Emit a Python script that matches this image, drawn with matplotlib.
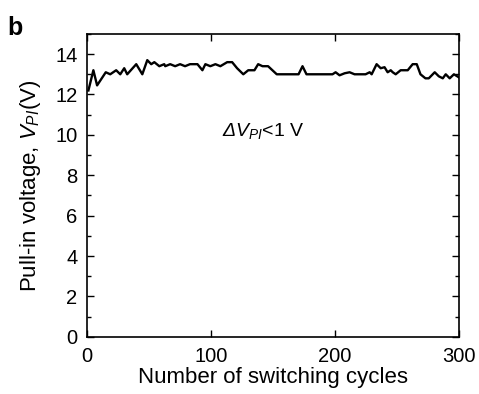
import matplotlib
matplotlib.use("Agg")
import matplotlib.pyplot as plt
from matplotlib.ticker import MultipleLocator

plt.rcParams['font.family'] = ['Liberation Sans', 'DejaVu Sans']
plt.rcParams['mathtext.fontset'] = 'custom'
plt.rcParams['mathtext.rm'] = 'Liberation Sans'
plt.rcParams['mathtext.it'] = 'Liberation Sans:italic'
plt.rcParams['mathtext.sf'] = 'Liberation Sans:italic'  # for an italic capital Delta

# switching cycle number and pull-in voltage (V)
cycles = [1, 5, 8, 15, 18.6, 23.4, 26.7, 29.9, 32.3, 39.6, 44.5, 48.5, 51.7, 54.2,
          58.2, 62.2, 63, 67, 71, 75, 79, 83, 89, 93, 95.4, 99.4, 103.5, 107.5,
          113, 117, 121, 126, 130, 135, 138, 141.5, 146, 153, 170.6, 173.8, 177,
          198, 200.5, 203.7, 207.8, 211.8, 215.8, 224.7, 228, 229.6, 233.6, 236.9,
          240, 242.5, 245, 246.6, 249, 253, 258.7, 262.7, 266, 269, 273, 275.7,
          280.5, 283.8, 287, 289.4, 292.6, 296, 300]
vpi = [12.2, 13.2, 12.45, 13.1, 13.0, 13.2, 13.0, 13.3, 13.0, 13.5, 13.0, 13.7, 13.5, 13.6,
       13.4, 13.5, 13.4, 13.5, 13.4, 13.5, 13.4, 13.5, 13.5, 13.2, 13.5, 13.4, 13.5, 13.4,
       13.6, 13.6, 13.3, 13.0, 13.2, 13.2, 13.5, 13.4, 13.4, 13.0, 13.0, 13.4, 13.0,
       13.0, 13.1, 12.95, 13.05, 13.1, 13.0, 13.0, 13.1, 13.0, 13.5, 13.3,
       13.35, 13.1, 13.2, 13.1, 13.0, 13.2, 13.2, 13.5, 13.5, 13.0, 12.8, 12.8,
       13.1, 12.9, 12.8, 13.0, 12.8, 13.0, 12.85]

fig = plt.figure(figsize=(4.79, 3.94), dpi=100)
ax = fig.add_axes([0.182, 0.145, 0.776, 0.769])

ax.plot(cycles, vpi, color='black', lw=1.7)

ax.set_xlim(0, 300)
ax.set_ylim(0, 15)
ax.xaxis.set_major_locator(MultipleLocator(100))
ax.yaxis.set_major_locator(MultipleLocator(2))
ax.yaxis.set_minor_locator(MultipleLocator(1))
ax.tick_params(which='both', direction='in', top=True, right=True, labelsize=14.5, width=1)
ax.tick_params(which='major', length=5)
ax.tick_params(which='minor', length=3)
ax.tick_params(axis='x', pad=7)
ax.tick_params(axis='y', pad=7)
for s in ax.spines.values():
    s.set_linewidth(1.2)

ax.set_xlabel('Number of switching cycles', fontsize=16, labelpad=1)
ax.set_ylabel('Pull-in voltage, $V_{PI}$(V)', fontsize=16, labelpad=9)

ax.text(109, 10.2, r'$\mathsf{Δ}\mathit{V}_{PI}$<1 V', fontsize=14, va='center', ha='left')
fig.text(0.015, 0.91, 'b', fontsize=18, fontweight='bold')

fig.savefig('out.png', dpi=100)
